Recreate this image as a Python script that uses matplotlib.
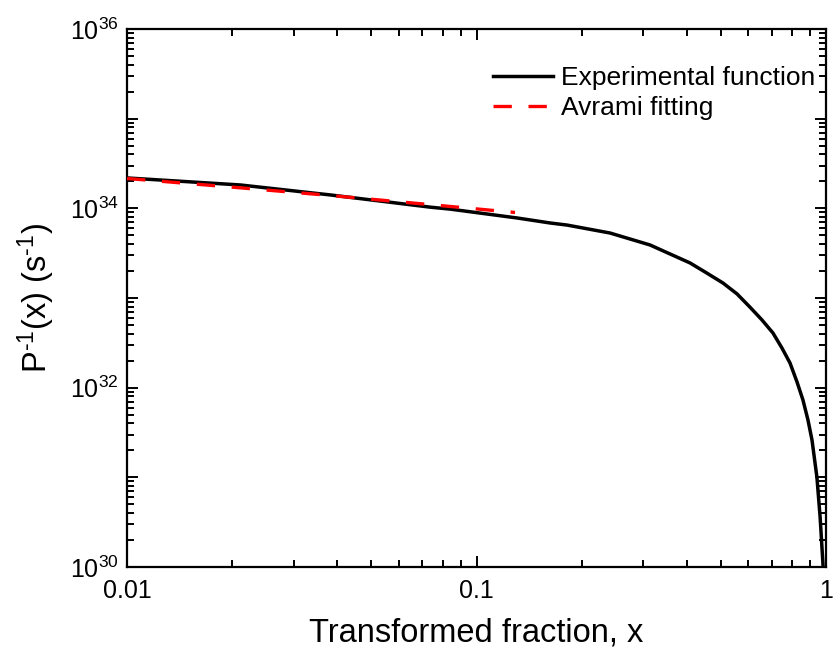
import math
import matplotlib
matplotlib.use("Agg")
import matplotlib.pyplot as plt
from matplotlib.ticker import LogLocator, FuncFormatter, NullFormatter, FixedLocator

plt.rcParams["font.family"] = ["Liberation Sans", "DejaVu Sans"]
plt.rcParams["mathtext.fontset"] = "custom"
plt.rcParams["mathtext.rm"] = "Liberation Sans"
plt.rcParams["mathtext.it"] = "Liberation Sans:italic"

# experimental P^-1(x)
exp_x = [0.01, 0.0211, 0.0381, 0.0736, 0.0839, 0.1306, 0.1623, 0.1816, 0.241,
         0.3136, 0.408, 0.4506, 0.507, 0.5564, 0.606, 0.656, 0.705, 0.748,
         0.789, 0.826, 0.859, 0.888, 0.912, 0.942, 0.962, 0.980, 0.983]
exp_y = [2.18e34, 1.82e34, 1.41e34, 1.03e34, 9.8e33, 7.8e33, 6.86e33, 6.5e33, 5.3e33,
         3.9e33, 2.46e33, 1.95e33, 1.47e33, 1.11e33, 7.9e32, 5.68e32, 4.07e32, 2.77e32,
         1.88e32, 1.16e32, 7.3e31, 4.36e31, 2.6e31, 1.0e31, 3.6e30, 1.1e30, 8e29]

# Avrami fit
fit_x = [0.01, 0.0197, 0.0381, 0.0736, 0.1289]
fit_y = [2.15e34, 1.73e34, 1.39e34, 1.10e34, 8.98e33]

fig = plt.figure(figsize=(8.34, 6.55), dpi=100)
ax = fig.add_axes([0.1523, 0.1344, 0.8381, 0.8214])

ax.plot(exp_x, exp_y, color="black", lw=2.5, label="Experimental function", zorder=2)
ax.plot(fit_x, fit_y, color="red", lw=2.4, dashes=(5.5, 5), label="Avrami fitting", zorder=3)

ax.set_xscale("log")
ax.set_yscale("log")
ax.set_xlim(0.01, 1)
ax.set_ylim(1e30, 1e36)

xlabs = {-2: "0.01", -1: "0.1", 0: "1"}
ax.xaxis.set_major_locator(FixedLocator([0.01, 0.1, 1]))
ax.xaxis.set_major_formatter(FuncFormatter(lambda v, p: xlabs.get(int(round(math.log10(v))), "")))
ax.xaxis.set_minor_locator(LogLocator(base=10, subs=range(2, 10)))
ax.xaxis.set_minor_formatter(NullFormatter())

def ylab(v, p):
    k = int(round(math.log10(v)))
    return r"$\mathregular{10^{%d}}$" % k if k % 2 == 0 else ""

ax.yaxis.set_major_locator(FixedLocator([10.0 ** k for k in range(30, 37)]))
ax.yaxis.set_major_formatter(FuncFormatter(ylab))
ax.yaxis.set_minor_locator(LogLocator(base=10, subs=range(2, 10), numticks=20))
ax.yaxis.set_minor_formatter(NullFormatter())

for s in ax.spines.values():
    s.set_linewidth(1.6)
ax.tick_params(which="both", direction="in", top=True, right=True, width=1.4, labelsize=18)
ax.tick_params(which="major", length=8)
ax.tick_params(which="minor", length=5)
ax.tick_params(axis="x", pad=9)
ax.tick_params(axis="y", pad=6)

ax.set_xlabel("Transformed fraction, x", fontsize=23.5, labelpad=10)
ax.set_ylabel(r"P$^{\mathregular{\text{-}1}}$(x) (s$^{\mathregular{\text{-}1}}$)",
              fontsize=23.5, labelpad=9)

ax.legend(loc="upper right", bbox_to_anchor=(1.0, 0.95), frameon=False, fontsize=19,
          handlelength=2.3, handletextpad=0.3, labelspacing=0.22,
          borderaxespad=0.2, borderpad=0.2)

fig.savefig("out.png", dpi=100)
